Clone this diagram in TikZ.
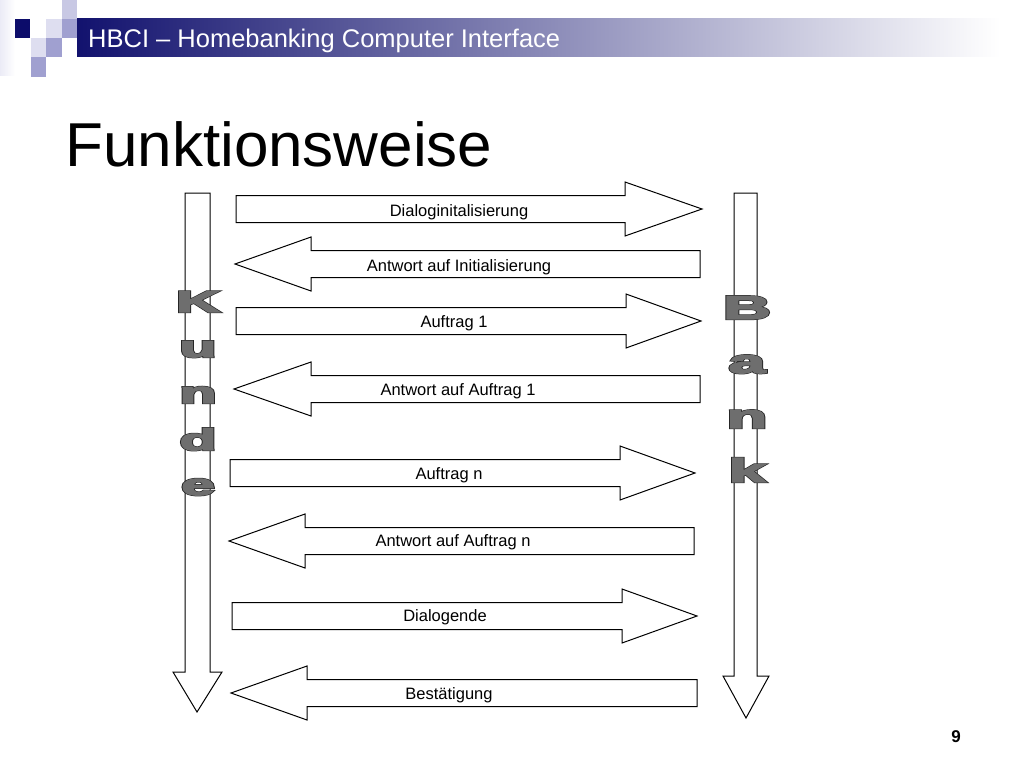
\documentclass[tikz,border=0pt]{standalone}
\usepackage{fontspec}
\setmainfont{Liberation Sans}
\usetikzlibrary{positioning}
\definecolor{hbcinavy}{HTML}{12126E}
\definecolor{squaredark}{HTML}{0C0C6A}
\definecolor{squaremid}{HTML}{A0A0D0}
\definecolor{squarelight}{HTML}{C8C8E4}
\definecolor{squarepale}{HTML}{DEDEF0}
\definecolor{lettergray}{HTML}{6E6E6E}
\newcommand{\outlined}[1]{%
  \rlap{\special{pdf:literal direct 2 Tr 2.2 w 0.15 G}#1\special{pdf:literal direct 0 Tr}}%
  \special{pdf:literal direct 2 Tr 1.2 w 0.43 G}#1\special{pdf:literal direct 0 Tr}}

\begin{document}
\begin{tikzpicture}[x=1pt,y=-1pt,
    blockarrow/.style={draw=black, line width=1pt, fill=white, line join=miter},
    msg/.style={font=\fontsize{16.5}{18}\selectfont, anchor=base, inner sep=0pt},
    kletter/.style={font=\fontsize{30}{30}\selectfont\bfseries, text=lettergray, anchor=base, inner sep=0pt},
    bletter/.style={kletter, font=\fontsize{33}{33}\selectfont\bfseries}]
  \useasboundingbox[fill=white] (0,0) rectangle (1024,768);

  % Kopfleiste mit Kaestchen
  \shade[left color=squarepale!60, right color=white] (0,0) rectangle (15,75);
  \shade[left color=hbcinavy, right color=white] (77,19) rectangle (1000,57);
  \fill[squaredark] (15,19) rectangle (30,38);
  \fill[squarelight] (62,0) rectangle (77,19);
  \fill[squarepale] (46,19) rectangle (62,38);
  \fill[squaremid] (62,19) rectangle (77,38);
  \fill[squarepale] (31,38) rectangle (46,57);
  \fill[squaremid] (46,38) rectangle (62,57);
  \fill[squaremid] (31,57) rectangle (46,77);
  \node[anchor=base west, text=white, font=\fontsize{25.5}{30}\selectfont, inner sep=0pt] (header) at (88,48) {HBCI -- Homebanking Computer Interface};

  % Titel
  \node[anchor=base west, font=\fontsize{62}{70}\selectfont, inner sep=0pt] (title) at (65,166) {Funktionsweise};

  % Zeitachsen Kunde / Bank
  \draw[blockarrow] (185,193) -- (210,193) -- (210,672) -- (222,672) -- (197,712) -- (173,672) -- (185,672) -- cycle;
  \draw[blockarrow] (734,193) -- (757,193) -- (757,676) -- (769,676) -- (746,718) -- (723,676) -- (734,676) -- cycle;

  % Nachrichten (y / Ende / Spitzenansatz / Spitze)
  \foreach \y/\xa/\xb/\xc in {209/236/625/702, 264/700/311/235, 321/236/626/701, 389/700/311/234,
                              473/230/620/695, 541/694/305/229, 616/232/622/697, 693/697/307/231}
    \draw[blockarrow] (\xa,\y-13.5) -- (\xb,\y-13.5) -- (\xb,\y-27) -- (\xc,\y) -- (\xb,\y+27) -- (\xb,\y+13.5) -- (\xa,\y+13.5) -- cycle;

  \node[msg] (dialoginit) at (459,216) {Dialoginitalisierung};
  \node[msg] (antwortinit) at (459,271) {Antwort auf Initialisierung};
  \node[msg] (auftrag1) at (454,327) {Auftrag 1};
  \node[msg] (antwort1) at (458,395) {Antwort auf Auftrag 1};
  \node[msg] (auftragn) at (449,479) {Auftrag n};
  \node[msg] (antwortn) at (453,546) {Antwort auf Auftrag n};
  \node[msg] (dialogende) at (445,621) {Dialogende};
  \node[msg] (bestaetigung) at (449,699) {Bestätigung};

  % Beschriftung der Achsen
  \foreach \ch/\yb [count=\i] in {K/312, u/357, n/403, d/450, e/495}
    \node[kletter] (kunde\i) at (198,\yb) {\scalebox{2}[1]{\outlined{\ch}}};
  \foreach \ch/\yb [count=\i] in {B/319, a/373, n/428, k/482}
    \node[bletter] (bank\i) at (747,\yb) {\scalebox{2}[1]{\outlined{\ch}}};

  % Seitenzahl
  \node[anchor=base, font=\fontsize{17}{17}\selectfont\bfseries, inner sep=0pt] (pagenum) at (956,742) {9};
\end{tikzpicture}
\end{document}
